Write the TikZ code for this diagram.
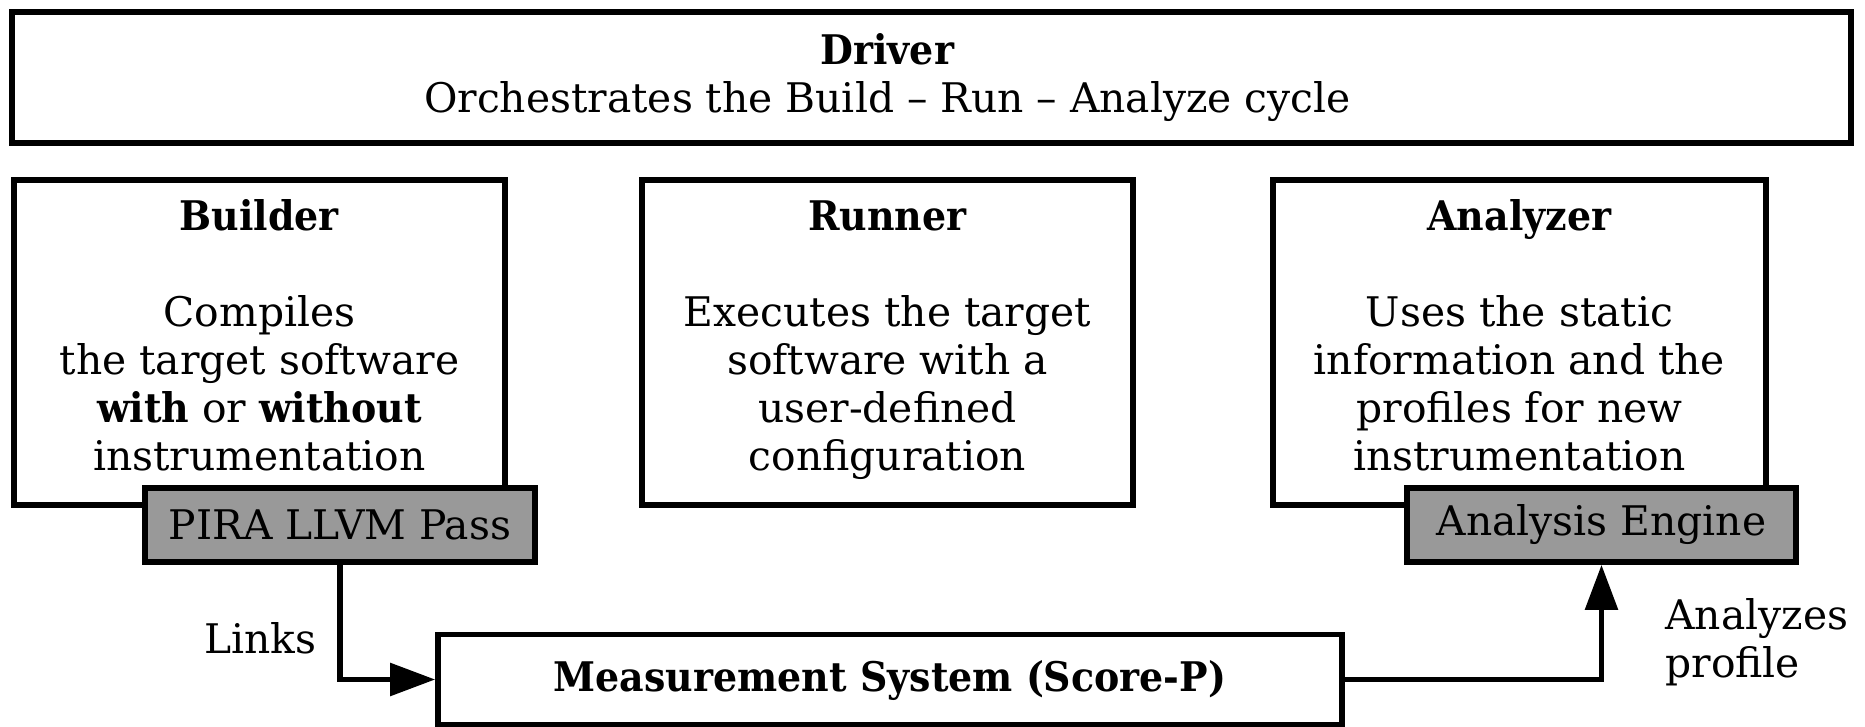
\documentclass[tikz,border=0pt]{standalone}
\usepackage{fontspec}
\setmainfont{DejaVu Serif}[BoldFeatures={FakeStretch=0.93}]
\usetikzlibrary{arrows.meta}
\begin{document}
\begin{tikzpicture}[x=0.5pt,y=-0.5pt,
  box/.style={draw=black,line width=2.8pt,fill=white,rectangle,inner sep=0pt},
  gbox/.style={draw=black,line width=2.8pt,fill=black!40,rectangle,inner sep=0pt},
  txt/.style={align=center,inner sep=0pt,font=\fontsize{20.4}{24}\selectfont},
  conn/.style={line width=2.8pt,-{Triangle[length=22.5pt,width=16pt]}}]
\useasboundingbox (0,0) rectangle (1865,727);
% Driver
\node[box,minimum width=919.5pt,minimum height=65.5pt] (driver) at (931.5,77.5) {};
\node[txt] (drivertext) at (887.5,79) {\strut\textbf{Driver}\\\strut Orchestrates the Build -- Run -- Analyze cycle};
% Builder
\node[box,minimum width=245.5pt,minimum height=162.5pt] (builder) at (259.5,342.5) {};
\node[txt] (buildertitle) at (259.5,220.5) {\strut\textbf{Builder}};
\node[txt] (buildertext) at (259.5,389) {\strut Compiles\\\strut the target software\\\strut\textbf{with} or \textbf{without}\\\strut instrumentation};
% Runner
\node[box,minimum width=245.5pt,minimum height=162.5pt] (runner) at (887.5,342.5) {};
\node[txt] (runnertitle) at (887.5,220.5) {\strut\textbf{Runner}};
\node[txt] (runnertext) at (887.5,389) {\strut Executes the target\\\strut software with a\\\strut user-defined\\\strut configuration};
% Analyzer
\node[box,minimum width=246.5pt,minimum height=162.5pt] (analyzer) at (1519.5,342.5) {};
\node[txt] (analyzertitle) at (1519.5,220.5) {\strut\textbf{Analyzer}};
\node[txt] (analyzertext) at (1519.5,389) {\strut Uses the static\\\strut information and the\\\strut profiles for new\\\strut instrumentation};
% gray boxes
\node[gbox,minimum width=195pt,minimum height=37pt] (pira) at (340,525) {};
\node[txt] (piratext) at (340,525) {PIRA LLVM Pass};
\node[gbox,minimum width=194.5pt,minimum height=37pt] (engine) at (1601.5,525) {};
\node[txt] (enginetext) at (1601.5,525) {Analysis Engine};
% Measurement
\node[box,minimum width=452pt,minimum height=45pt] (meas) at (890,679.5) {};
\node[txt] (meastext) at (890,681) {\textbf{Measurement System (Score-P)}};
% connectors
\draw[conn] (pira.south) |- (meas.west);
\draw[conn] (meas.east) -| (engine.south);
\node[txt,anchor=base east] (links) at (317,653) {Links};
\node[txt,align=left,anchor=west] (analyzes) at (1665,644) {\strut Analyzes\\\strut profile};
\end{tikzpicture}
\end{document}
